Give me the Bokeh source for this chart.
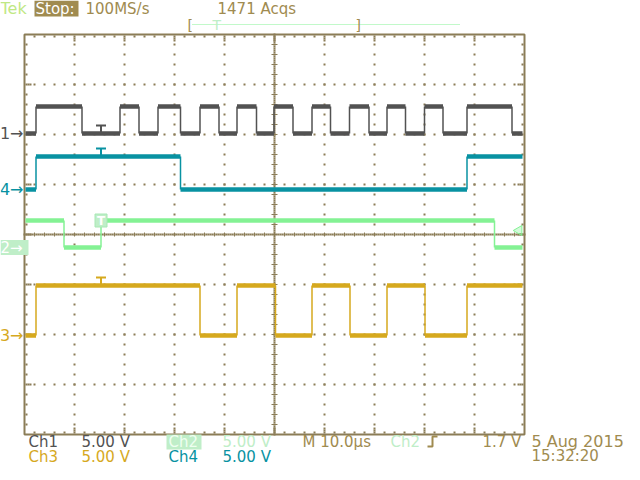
import numpy as np
from bokeh.plotting import figure
from bokeh.models import Range1d, Label
from bokeh.core.properties import value
from bokeh.embed import file_html
from bokeh.resources import INLINE

# ---------------- scope settings ----------------
time_per_div = 10.0      # µs / div
volts_per_div = 5.0      # V / div
n_hdiv = 10
n_vdiv = 8
minor_per_div = 5

record_start = -49.8     # µs
record_end = 49.6        # µs
trigger_time = -34.7     # µs
trigger_level_v = 1.7    # V

# ---------------- channel data ----------------
# transition times (µs), initial state (0 low / 1 high), high level (V), position (div)
ch1_times = [-47.7, -38.5, -30.9, -27.1, -23.3, -18.8, -14.9, -11.1, -7.5, -3.6,
             -0.1, 3.7, 7.5, 11.2, 15.0, 18.9, 22.5, 26.2, 30.0, 33.7, 38.5, 47.5]
ch1_start = 0
ch1_high_v = 2.7
ch1_pos = 2.02

ch2_times = [-42.1, -34.7, 44.0]
ch2_start = 1
ch2_high_v = 2.7
ch2_pos = -0.26

ch3_times = [-47.7, -14.9, -7.5, 0.2, 7.5, 15.1, 22.5, 30.1, 38.5]
ch3_start = 0
ch3_high_v = 5.0
ch3_pos = -2.02

ch4_times = [-47.7, -18.8, 38.5]
ch4_start = 0
ch4_high_v = 3.3
ch4_pos = 0.90

# colours
c1 = "#525252"
c2 = "#84f294"
c2_pale = "#bfeec8"
c3 = "#d6a91e"
c4 = "#0892a2"
grid_c = "#8b7d57"
brown = "#a08b50"

# ---------------- screen geometry (reference pixels) ----------------
W, H = 624, 464
GRAT_CX, GRAT_CY = 274, 234
PX_PER_DIV = 50


def tx(px):
    return (px - GRAT_CX) / PX_PER_DIV * time_per_div


def dy(py):
    return (GRAT_CY - py) / PX_PER_DIV


p = figure(width=W, height=H,
           x_range=Range1d(tx(0), tx(W)),
           y_range=Range1d(dy(H), dy(0)),
           output_backend="svg", toolbar_location=None, min_border=0,
           x_axis_location=None, y_axis_location=None)
p.grid.visible = False
p.outline_line_color = None
p.background_fill_color = "white"
p.border_fill_color = "white"

# ---------------- graticule ----------------
half_t = n_hdiv / 2 * time_per_div
half_v = n_vdiv / 2
mt = time_per_div / minor_per_div
mv = 1.0 / minor_per_div

gx, gy = [], []
# vertical division lines
for k in range(-n_hdiv // 2 + 1, n_hdiv // 2):
    if k == 0:
        continue
    for yy in np.arange(-half_v + mv, half_v - mv / 2, mv):
        gx.append(k * time_per_div)
        gy.append(yy)
# horizontal division lines
for k in range(-n_vdiv // 2 + 1, n_vdiv // 2):
    if k == 0:
        continue
    for xx in np.arange(-half_t + mt, half_t - mt / 2, mt):
        gx.append(xx)
        gy.append(k)
# centre lines (fine dotted)
for yy in np.arange(-half_v, half_v + 1e-9, mv / 5):
    gx.append(0.0)
    gy.append(yy)
for xx in np.arange(-half_t, half_t + 1e-9, mt / 5):
    gx.append(xx)
    gy.append(0.0)
# border ticks
inset_t = mt / 5
inset_v = mv / 5
for xx in np.arange(-half_t + mt, half_t - mt / 2, mt):
    gx += [xx, xx]
    gy += [half_v - inset_v, -half_v + inset_v]
for yy in np.arange(-half_v + mv, half_v - mv / 2, mv):
    gx += [-half_t + inset_t, half_t - inset_t]
    gy += [yy, yy]
# longer ticks at major divisions on border
for k in range(-n_hdiv // 2 + 1, n_hdiv // 2):
    for j in (2, 3):
        gx += [k * time_per_div, k * time_per_div]
        gy += [half_v - j * inset_v, -half_v + j * inset_v]
for k in range(-n_vdiv // 2 + 1, n_vdiv // 2):
    for j in (2, 3):
        gx += [-half_t + j * inset_t, half_t - j * inset_t]
        gy += [k, k]

p.scatter(gx, gy, marker="square", size=2, fill_color=grid_c, line_color=None)

# centre-line tick marks
tk_y = np.arange(-half_v, half_v + 1e-9, mv)
p.segment(x0=[-mt * 0.3] * len(tk_y), x1=[mt * 0.3] * len(tk_y), y0=tk_y, y1=tk_y,
          line_color=grid_c, line_width=1)
tk_x = np.arange(-half_t, half_t + 1e-9, mt)
p.segment(x0=tk_x, x1=tk_x, y0=[-mv * 0.2] * len(tk_x), y1=[mv * 0.2] * len(tk_x),
          line_color=grid_c, line_width=1)

# border
p.quad(left=[-half_t], right=[half_t], bottom=[-half_v], top=[half_v],
       fill_color=None, line_color=grid_c, line_width=2)


# ---------------- traces ----------------
def build(times, start, high_v, pos):
    lv = [pos, pos + high_v / volts_per_div]
    edges = [record_start] + list(times) + [record_end]
    hx0, hx1, hy, vx, vy0, vy1 = [], [], [], [], [], []
    s = start
    for i in range(len(edges) - 1):
        hx0.append(edges[i])
        hx1.append(edges[i + 1])
        hy.append(lv[s])
        if i < len(edges) - 2:
            vx.append(edges[i + 1])
            vy0.append(lv[s])
            vy1.append(lv[1 - s])
            s = 1 - s
    return hx0, hx1, hy, vx, vy0, vy1, lv


def level_at(times, start, lv, t):
    s = start
    for tt in times:
        if tt <= t:
            s = 1 - s
    return lv[s]


channels = [
    ("1", ch1_times, ch1_start, ch1_high_v, ch1_pos, c1),
    ("4", ch4_times, ch4_start, ch4_high_v, ch4_pos, c4),
    ("2", ch2_times, ch2_start, ch2_high_v, ch2_pos, c2),
    ("3", ch3_times, ch3_start, ch3_high_v, ch3_pos, c3),
]

for name, times, st, hv, pos, col in channels:
    hx0, hx1, hy, vx, vy0, vy1, lv = build(times, st, hv, pos)
    p.segment(x0=vx, x1=vx, y0=vy0, y1=vy1, line_color=col, line_width=1.5)
    p.segment(x0=hx0, x1=hx1, y0=hy, y1=hy, line_color=col, line_width=4.5, line_cap="butt")
    lvl = level_at(times, st, lv, trigger_time)
    if name == "2":
        p.quad(left=[trigger_time - 1.2], right=[trigger_time + 1.2],
               bottom=[lvl - 0.13], top=[lvl + 0.13],
               fill_color=c2_pale, line_color="#a8e8b4", line_width=1)
        p.text(x=[trigger_time], y=[lvl], text=["T"], text_color="white",
               text_font=value("DejaVu Sans"), text_font_size="12px", text_font_style="bold",
               text_align="center", text_baseline="middle")
    else:
        top = lvl + 0.16
        p.segment(x0=[trigger_time - 1.0], x1=[trigger_time + 1.0], y0=[top], y1=[top],
                  line_color=col, line_width=2)
        p.segment(x0=[trigger_time], x1=[trigger_time], y0=[top], y1=[lvl],
                  line_color=col, line_width=2)
    # ground marker on the left
    if name == "2":
        p.quad(left=[tx(0)], right=[tx(28)], bottom=[pos - 0.15], top=[pos + 0.15],
               fill_color=c2_pale, line_color=None)
        p.text(x=[-half_t - 0.4], y=[pos], text=["2→"], text_color="white",
               text_font=value("DejaVu Sans"), text_font_size="15px",
               text_align="right", text_baseline="middle")
    else:
        p.text(x=[-half_t - 0.2], y=[pos], text=[name + "→"], text_color=col,
               text_font=value("DejaVu Sans"), text_font_size="16px",
               text_align="right", text_baseline="middle")

# trigger level marker (right edge)
p.scatter(x=[half_t - 1.1], y=[ch2_pos + trigger_level_v / volts_per_div], marker="triangle",
          angle=np.pi / 2, size=10, fill_color=c2, fill_alpha=0.35, line_color=c2)

# ---------------- record bar (top) ----------------
bar_y = dy(24)
p.line(x=[tx(192), tx(460)], y=[bar_y, bar_y], line_color=c2, line_width=1, line_dash="1 1")
for txt, px in (("[", 187), ("]", 355)):
    p.add_layout(Label(x=tx(px), y=bar_y, text=txt, text_color=brown,
                       text_font="DejaVu Sans", text_font_size="14px", text_baseline="middle"))
p.add_layout(Label(x=tx(212), y=bar_y, text="T", text_color=c2_pale,
                   text_font="DejaVu Sans", text_font_size="14px", text_baseline="middle"))

# ---------------- status texts ----------------
FONT = "DejaVu Sans"


def lab(px, py, txt, col, size="15px"):
    p.add_layout(Label(x=tx(px), y=dy(py), text=txt, text_color=col, text_font=FONT,
                       text_font_size=size, text_baseline="middle", text_align="left"))


top_y = 8
lab(0, top_y, "Tek", "#bfe884", "16px")
p.quad(left=[tx(34)], right=[tx(78)], bottom=[dy(top_y + 8)], top=[dy(top_y - 8)],
       fill_color=brown, line_color=None)
lab(35, top_y, "Stop:", "white")
lab(85, top_y, "100MS/s", brown)
lab(217, top_y, "1471 Acqs", brown)

r1, r2 = 441, 456
lab(28, r1, "Ch1", c1)
lab(81, r1, "5.00 V", c1)
p.quad(left=[tx(166)], right=[tx(201)], bottom=[dy(r1 + 8)], top=[dy(r1 - 7)],
       fill_color=c2_pale, line_color=None)
lab(168, r1, "Ch2", "#eefff0")
lab(222, r1, "5.00 V", c2_pale)
lab(302, r1, "M 10.0µs", brown)
lab(390, r1, "Ch2", c2_pale)
# rising-edge trigger symbol
p.line(x=[tx(427), tx(432), tx(432), tx(437)], y=[dy(r1 + 5), dy(r1 + 5), dy(r1 - 5), dy(r1 - 5)],
       line_color=brown, line_width=2)
lab(482, r1, "1.7 V", brown)
lab(28, r2, "Ch3", c3)
lab(81, r2, "5.00 V", c3)
lab(168, r2, "Ch4", c4)
lab(222, r2, "5.00 V", c4)
lab(531, 441, "5 Aug 2015", brown, "16px")
lab(531, 455, "15:32:20", brown, "15px")

open("out.html", "w").write(file_html(p, INLINE))
